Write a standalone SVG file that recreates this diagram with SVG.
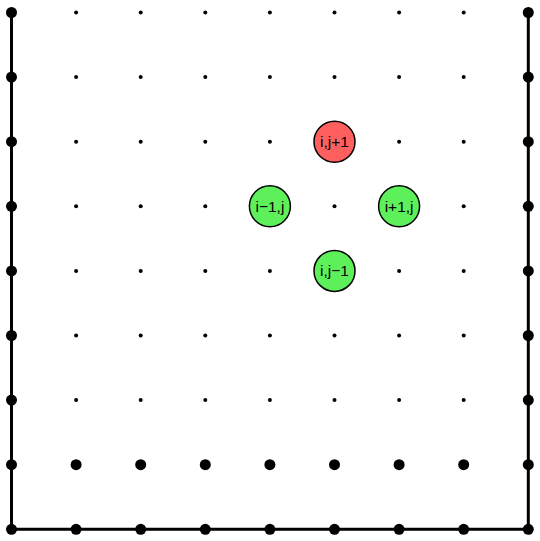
<svg xmlns="http://www.w3.org/2000/svg" width="540" height="541" viewBox="0 0 540 541">
<style>
.b{fill:#000}
.s{fill:#000}
.red{fill:#ff5f5f;stroke:#000;stroke-width:1.5}
.grn{fill:#5ef05a;stroke:#000;stroke-width:1.5}
text{font-family:"Liberation Sans",Arial,sans-serif;font-size:15.5px;text-anchor:middle;dominant-baseline:central;fill:#000}
.ln{stroke:#000;stroke-width:3;fill:none}
</style>
<rect width="540" height="541" fill="#fff"/>
<g id="boundary">
<polyline class="ln" points="11.5,12.5 11.5,529.3 528.3,529.3 528.3,12.5"/>
</g>
<g id="grid">
<g class="s">
<circle cx="76.1" cy="12.5" r="2"/><circle cx="140.7" cy="12.5" r="2"/><circle cx="205.3" cy="12.5" r="2"/><circle cx="269.9" cy="12.5" r="2"/><circle cx="334.5" cy="12.5" r="2"/><circle cx="399.1" cy="12.5" r="2"/><circle cx="463.7" cy="12.5" r="2"/>
<circle cx="76.1" cy="77.1" r="2"/><circle cx="140.7" cy="77.1" r="2"/><circle cx="205.3" cy="77.1" r="2"/><circle cx="269.9" cy="77.1" r="2"/><circle cx="334.5" cy="77.1" r="2"/><circle cx="399.1" cy="77.1" r="2"/><circle cx="463.7" cy="77.1" r="2"/>
<circle cx="76.1" cy="141.7" r="2"/><circle cx="140.7" cy="141.7" r="2"/><circle cx="205.3" cy="141.7" r="2"/><circle cx="269.9" cy="141.7" r="2"/><circle cx="399.1" cy="141.7" r="2"/><circle cx="463.7" cy="141.7" r="2"/>
<circle cx="76.1" cy="206.3" r="2"/><circle cx="140.7" cy="206.3" r="2"/><circle cx="205.3" cy="206.3" r="2"/><circle cx="334.5" cy="206.3" r="2"/><circle cx="463.7" cy="206.3" r="2"/>
<circle cx="76.1" cy="270.9" r="2"/><circle cx="140.7" cy="270.9" r="2"/><circle cx="205.3" cy="270.9" r="2"/><circle cx="269.9" cy="270.9" r="2"/><circle cx="399.1" cy="270.9" r="2"/><circle cx="463.7" cy="270.9" r="2"/>
<circle cx="76.1" cy="335.5" r="2"/><circle cx="140.7" cy="335.5" r="2"/><circle cx="205.3" cy="335.5" r="2"/><circle cx="269.9" cy="335.5" r="2"/><circle cx="334.5" cy="335.5" r="2"/><circle cx="399.1" cy="335.5" r="2"/><circle cx="463.7" cy="335.5" r="2"/>
<circle cx="76.1" cy="400.1" r="2"/><circle cx="140.7" cy="400.1" r="2"/><circle cx="205.3" cy="400.1" r="2"/><circle cx="269.9" cy="400.1" r="2"/><circle cx="334.5" cy="400.1" r="2"/><circle cx="399.1" cy="400.1" r="2"/><circle cx="463.7" cy="400.1" r="2"/>
</g>
<g class="b">
<circle cx="11.5" cy="12.5" r="5.5"/><circle cx="11.5" cy="77.1" r="5.5"/><circle cx="11.5" cy="141.7" r="5.5"/><circle cx="11.5" cy="206.3" r="5.5"/><circle cx="11.5" cy="270.9" r="5.5"/><circle cx="11.5" cy="335.5" r="5.5"/><circle cx="11.5" cy="400.1" r="5.5"/><circle cx="11.5" cy="464.7" r="5.5"/><circle cx="11.5" cy="529.3" r="5.5"/>
<circle cx="528.3" cy="12.5" r="5.5"/><circle cx="528.3" cy="77.1" r="5.5"/><circle cx="528.3" cy="141.7" r="5.5"/><circle cx="528.3" cy="206.3" r="5.5"/><circle cx="528.3" cy="270.9" r="5.5"/><circle cx="528.3" cy="335.5" r="5.5"/><circle cx="528.3" cy="400.1" r="5.5"/><circle cx="528.3" cy="464.7" r="5.5"/><circle cx="528.3" cy="529.3" r="5.5"/>
<circle cx="76.1" cy="464.7" r="5.5"/><circle cx="140.7" cy="464.7" r="5.5"/><circle cx="205.3" cy="464.7" r="5.5"/><circle cx="269.9" cy="464.7" r="5.5"/><circle cx="334.5" cy="464.7" r="5.5"/><circle cx="399.1" cy="464.7" r="5.5"/><circle cx="463.7" cy="464.7" r="5.5"/>
<circle cx="76.1" cy="529.3" r="5.5"/><circle cx="140.7" cy="529.3" r="5.5"/><circle cx="205.3" cy="529.3" r="5.5"/><circle cx="269.9" cy="529.3" r="5.5"/><circle cx="334.5" cy="529.3" r="5.5"/><circle cx="399.1" cy="529.3" r="5.5"/><circle cx="463.7" cy="529.3" r="5.5"/>
</g>
</g>
<g id="n-ijp1"><circle class="red" cx="334.5" cy="141.7" r="20.5"/><text x="334.5" y="141.7">i,j+1</text></g>
<g id="n-im1j"><circle class="grn" cx="269.9" cy="206.3" r="20.5"/><text x="269.9" y="206.3">i−1,j</text></g>
<g id="n-ip1j"><circle class="grn" cx="399.1" cy="206.3" r="20.5"/><text x="399.1" y="206.3">i+1,j</text></g>
<g id="n-ijm1"><circle class="grn" cx="334.5" cy="270.9" r="20.5"/><text x="334.5" y="270.9">i,j−1</text></g>
</svg>
